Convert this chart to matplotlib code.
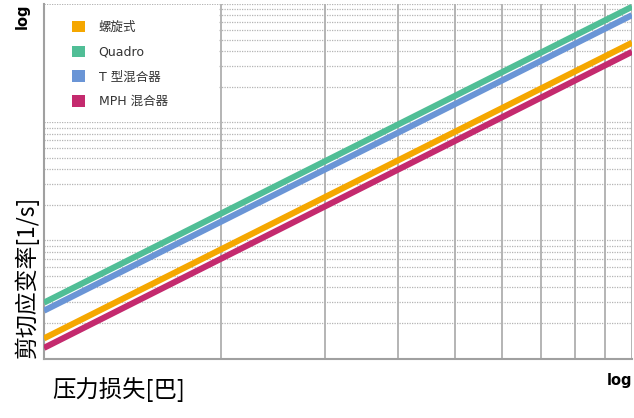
import matplotlib.pyplot as plt
from matplotlib.patches import Patch, Rectangle

plt.rcParams['font.family'] = ['DejaVu Sans', 'Noto Sans CJK SC']

# Druckverlust (x) und Scherrate (y), beide logarithmisch
pressure = [1, 10]
screw = [1.48, 470]
quadro = [2.97, 947]
t_mixer = [2.54, 805]
mph = [1.23, 394]

labels = ['螺旋式', 'Quadro', 'T 型混合器', 'MPH 混合器']
colors = ['#f5a700', '#50be96', '#6a95d6', '#c42a6e']

fig = plt.figure(figsize=(6.34, 4.18), dpi=100)
ax = fig.add_axes([44 / 634, 59.5 / 418, 588 / 634, 354.5 / 418])
ax.set_xscale('log')
ax.set_yscale('log')
ax.set_xlim(1, 10)
ax.set_ylim(1, 1000)
ax.set_axisbelow(True)

ax.grid(axis='x', which='both', color='#a8a8a8', linestyle='-', linewidth=1.2)
ax.grid(axis='y', which='both', color='#b4b4b4', linestyle=(0, (1, 1)), linewidth=0.9)

# weisser Bereich hinter der Legende
ax.add_patch(Rectangle((1.0, 101), 0.985, 880, facecolor='white', edgecolor='none', zorder=1))

for ys, c in zip([screw, quadro, t_mixer, mph], colors):
    ax.plot(pressure, ys, color=c, linewidth=4.4, solid_capstyle='butt', zorder=3)

ax.tick_params(which='both', length=0, labelleft=False, labelbottom=False)
for s in ['top', 'right']:
    ax.spines[s].set_visible(False)
for s in ['left', 'bottom']:
    ax.spines[s].set_color('#a0a0a0')
    ax.spines[s].set_linewidth(1.5)

handles = [Patch(facecolor=c, edgecolor='none') for c in colors]
leg = ax.legend(handles, labels, loc='upper left', bbox_to_anchor=(0.029, 0.985),
                frameon=False, fontsize=9, handlelength=1.0, handleheight=1.0,
                handletextpad=1.1, labelspacing=0.95)
for t in leg.get_texts():
    t.set_color('#333333')

fig.text(22 / 634, 1 - 16 / 418, 'log', rotation=90, ha='center', va='center',
         fontsize=10.5, fontweight='bold')
fig.text(620 / 634, 1 - 381 / 418, 'log', ha='center', va='center',
         fontsize=10.5, fontweight='bold')
fig.text(27 / 634, 1 - 277 / 418, '剪切应变率[1/s]', rotation=90, ha='center', va='center',
         fontsize=16.5, family=['Noto Sans CJK SC', 'DejaVu Sans'])
fig.text(52 / 634, 1 - 390 / 418, '压力损失[巴]', ha='left', va='center',
         fontsize=16.8, family=['Noto Sans CJK SC', 'DejaVu Sans'])

fig.savefig('out.png', dpi=100)
